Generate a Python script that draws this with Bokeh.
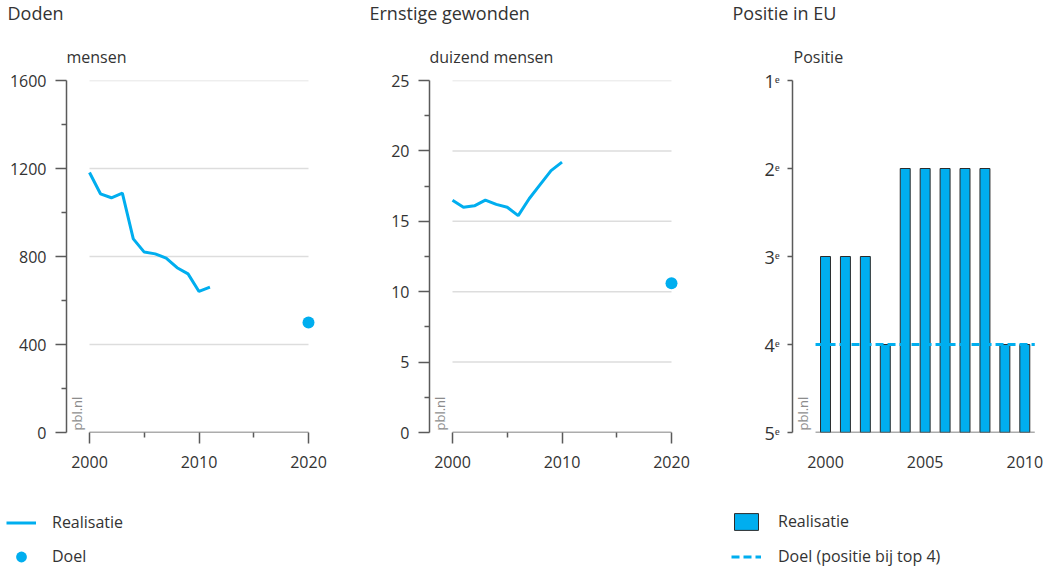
import math
from bokeh.plotting import figure
from bokeh.models import Range1d, Label, Legend, LegendItem, FixedTicker, Spacer
from bokeh.layouts import row, column
from bokeh.embed import file_html
from bokeh.resources import INLINE

# ---------------- data ----------------
doden_jaren = [2000, 2001, 2002, 2003, 2004, 2005, 2006, 2007, 2008, 2009, 2010, 2011]
doden = [1182, 1085, 1067, 1088, 880, 820, 812, 793, 749, 721, 641, 661]
doden_doel_jaar = [2020]
doden_doel = [500]
doden_yticks = [0, 400, 800, 1200, 1600]
doden_yminor = [200, 600, 1000, 1400]
doden_xticks = [2000, 2010, 2020]
doden_xminor = [2005, 2015]

gew_jaren = [2000, 2001, 2002, 2003, 2004, 2005, 2006, 2007, 2008, 2009, 2010]
gewonden = [16.5, 16.0, 16.1, 16.5, 16.2, 16.0, 15.4, 16.6, 17.6, 18.6, 19.2]
gew_doel_jaar = [2020]
gew_doel = [10.6]
gew_yticks = [0, 5, 10, 15, 20, 25]
gew_yminor = [2.5, 7.5, 12.5, 17.5, 22.5]

eu_jaren = [2000, 2001, 2002, 2003, 2004, 2005, 2006, 2007, 2008, 2009, 2010]
eu_positie = [3, 3, 3, 4, 2, 2, 2, 2, 2, 4, 4]
eu_doel = 4
eu_yticks = [1, 2, 3, 4, 5]
eu_ylabels = ["1ᵉ", "2ᵉ", "3ᵉ", "4ᵉ", "5ᵉ"]
eu_xticks = [2000, 2005, 2010]

titels = ["Doden", "Ernstige gewonden", "Positie in EU"]
eenheden = ["mensen", "duizend mensen", "Positie"]

# ---------------- style ----------------
FONT = "Open Sans"
BLUE = "#00AEEF"
TXT = "#333333"
AX = "#5a5a5a"
GRID = "#dddddd"
BAR_LINE = "#2b2b2b"
WIDTHS = [350, 360, 339]
TITLE_H = 68
MAIN_H = 422
LEG_H = 76
TOP = 12
FRAME_H = 352
BOTTOM = MAIN_H - TOP - FRAME_H


def blank_fig(width, height):
    p = figure(width=width, height=height, x_range=Range1d(0, 1), y_range=Range1d(0, 1),
               x_axis_type=None, y_axis_type=None, output_backend="svg",
               toolbar_location=None, min_border=0)
    p.outline_line_color = None
    p.xgrid.visible = False
    p.ygrid.visible = False
    return p


def title_fig(width, title, unit, tx, ux):
    p = blank_fig(width, TITLE_H)
    p.add_layout(Label(x=tx, y=TITLE_H - 12.5, x_units="screen", y_units="screen", text=title,
                       text_font=FONT, text_font_size="18px", text_color=TXT,
                       text_baseline="middle"))
    p.add_layout(Label(x=ux, y=TITLE_H - 56, x_units="screen", y_units="screen", text=unit,
                       text_font=FONT, text_font_size="16px", text_color=TXT,
                       text_baseline="middle"))
    return p


def make_fig(width, left, right, xr, yr):
    p = figure(width=width, height=MAIN_H, x_range=xr, y_range=yr,
               output_backend="svg", toolbar_location=None,
               min_border_left=left, min_border_right=right,
               min_border_top=TOP, min_border_bottom=BOTTOM)
    p.outline_line_color = None
    p.xgrid.visible = False
    p.ygrid.visible = False
    for ax in (p.xaxis[0], p.yaxis[0]):
        ax.major_label_text_font = FONT
        ax.major_label_text_font_size = "16px"
        ax.major_label_text_color = TXT
        ax.major_tick_in = 0
        ax.minor_tick_in = 0
        ax.major_tick_line_color = AX
        ax.minor_tick_line_color = AX
        ax.major_tick_line_width = 1.5
        ax.minor_tick_line_width = 1.5
        ax.axis_line_color = AX
        ax.axis_line_width = 1.5
    p.xaxis.axis_line_color = None
    p.yaxis.major_label_standoff = 9
    return p


def pbl(p, x):
    p.add_layout(Label(x=x, y=2, x_units="screen", y_units="screen", text="pbl.nl",
                       angle=math.pi / 2, text_font=FONT, text_font_size="13px",
                       text_color="#8c8c8c", text_baseline="alphabetic", text_align="left"))


def legend_fig(width, x, y, gh, sp, standoff, builder):
    # legend strip; its proxy glyphs hold the real series but lie outside the visible range
    p = blank_fig(width, LEG_H)
    items = builder(p)
    lg = Legend(items=items, location=(x, y), orientation="vertical",
                glyph_width=30, glyph_height=gh, label_height=gh, spacing=sp,
                label_standoff=standoff, padding=0, margin=0,
                label_text_font=FONT, label_text_font_size="16px", label_text_color=TXT,
                background_fill_alpha=0, border_line_alpha=0)
    p.add_layout(lg)
    return p


# ---------------- panel 1: Doden ----------------
s1 = 10.95
x1s = 2000 - 23 / s1
p1 = make_fig(WIDTHS[0], 66, 32, Range1d(x1s, x1s + 252 / s1), Range1d(0, 1600))
p1.yaxis.ticker = FixedTicker(ticks=doden_yticks, minor_ticks=doden_yminor)
p1.xaxis.ticker = FixedTicker(ticks=doden_xticks, minor_ticks=doden_xminor)
for ax in (p1.xaxis[0], p1.yaxis[0]):
    ax.major_tick_out = 11
    ax.minor_tick_out = 5
p1.xaxis.major_label_standoff = 12
p1.segment(x0=doden_xticks[0], x1=doden_xticks[-1], y0=doden_yticks[1:], y1=doden_yticks[1:],
           line_color=GRID, line_width=1.5)
p1.segment(x0=doden_xticks[0], x1=doden_xticks[-1], y0=doden_yticks[0], y1=doden_yticks[0],
           line_color=AX, line_width=1.5)
p1.line(doden_jaren, doden, line_color=BLUE, line_width=3)
p1.scatter(doden_doel_jaar, doden_doel, size=12, fill_color=BLUE, line_color=None)
pbl(p1, 10)

# ---------------- panel 2: Ernstige gewonden ----------------
s2 = 10.95
x2s = 2000 - 23 / s2
p2 = make_fig(WIDTHS[1], 79, 30, Range1d(x2s, x2s + 251 / s2), Range1d(0, 25))
p2.yaxis.ticker = FixedTicker(ticks=gew_yticks, minor_ticks=gew_yminor)
p2.xaxis.ticker = FixedTicker(ticks=doden_xticks, minor_ticks=doden_xminor)
for ax in (p2.xaxis[0], p2.yaxis[0]):
    ax.major_tick_out = 11
    ax.minor_tick_out = 5
p2.xaxis.major_label_standoff = 12
p2.segment(x0=doden_xticks[0], x1=doden_xticks[-1], y0=gew_yticks[1:], y1=gew_yticks[1:],
           line_color=GRID, line_width=1.5)
p2.segment(x0=doden_xticks[0], x1=doden_xticks[-1], y0=gew_yticks[0], y1=gew_yticks[0],
           line_color=AX, line_width=1.5)
p2.line(gew_jaren, gewonden, line_color=BLUE, line_width=3)
p2.scatter(gew_doel_jaar, gew_doel, size=12, fill_color=BLUE, line_color=None)
pbl(p2, 10)

# ---------------- panel 3: Positie in EU ----------------
s3 = 19.93
x3s = 2000 - 33 / s3
p3 = make_fig(WIDTHS[2], 82, 14, Range1d(x3s, x3s + 243 / s3), Range1d(5, 1))
p3.yaxis.ticker = FixedTicker(ticks=eu_yticks)
p3.yaxis.major_label_overrides = {t: lab for t, lab in zip(eu_yticks, eu_ylabels)}
p3.yaxis.major_label_text_font_size = "18px"
p3.yaxis.major_tick_out = 5
p3.yaxis.major_label_standoff = 8
p3.xaxis.ticker = FixedTicker(ticks=eu_xticks)
p3.xaxis.major_tick_out = 0
p3.xaxis.major_tick_line_color = None
p3.xaxis.major_label_standoff = 23
p3.vbar(x=eu_jaren, top=eu_positie, bottom=eu_yticks[-1], width=0.5,
        fill_color=BLUE, line_color=BAR_LINE, line_width=1)
p3.segment(x0=eu_jaren[0] - 0.5, x1=eu_jaren[-1] + 0.5, y0=eu_yticks[-1], y1=eu_yticks[-1],
           line_color=AX, line_width=1.5)
p3.segment(x0=eu_jaren[0] - 0.5, x1=eu_jaren[-1] + 0.5, y0=eu_doel, y1=eu_doel,
           line_color=BLUE, line_width=3, line_dash="8 4")
pbl(p3, 10)

# ---------------- titles ----------------
t1 = title_fig(WIDTHS[0], titels[0], eenheden[0], 7, 66)
t2 = title_fig(WIDTHS[1], titels[1], eenheden[1], 19, 79)
t3 = title_fig(WIDTHS[2], titels[2], eenheden[2], 22, 83)


# ---------------- legends ----------------
def leg1_items(p):
    r1 = p.line(doden_jaren, doden, line_color=BLUE, line_width=3)
    r2 = p.scatter(doden_doel_jaar, doden_doel, size=12, fill_color=BLUE, line_color=None)
    return [LegendItem(label="Realisatie", renderers=[r1]),
            LegendItem(label="Doel", renderers=[r2])]


def leg3_items(p):
    r1 = p.vbar(x=eu_jaren, top=eu_positie, bottom=eu_yticks[-1], width=0.5,
                fill_color=BLUE, line_color=BAR_LINE, line_width=1)
    r2 = p.segment(x0=eu_jaren[0] - 0.5, x1=eu_jaren[-1] + 0.5, y0=eu_doel, y1=eu_doel,
                   line_color=BLUE, line_width=3, line_dash="8 4")
    return [LegendItem(label="Realisatie", renderers=[r1]),
            LegendItem(label="Doel (positie bij top 4)", renderers=[r2])]


g1 = legend_fig(WIDTHS[0], 6, -3.5, 27, 7, 16, leg1_items)
g3 = legend_fig(WIDTHS[2], 21, -1, 21, 13, 17, leg3_items)

layout = column(
    row(t1, t2, t3, spacing=0),
    row(p1, p2, p3, spacing=0),
    row(g1, Spacer(width=WIDTHS[1], height=LEG_H), g3, spacing=0),
    spacing=0,
)
open("out.html", "w").write(file_html(layout, INLINE, title="Verkeersveiligheid"))
